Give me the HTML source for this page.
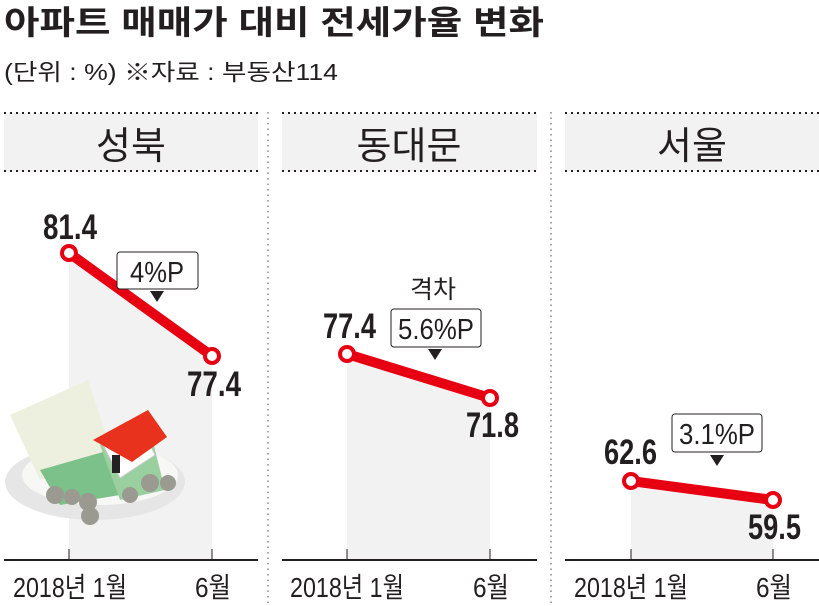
<!DOCTYPE html>
<html><head><meta charset="utf-8"><style>
html,body{margin:0;padding:0;background:#fff;width:819px;height:606px;overflow:hidden}
svg{display:block}
text{font-family:"Liberation Sans","Noto Sans CJK KR",sans-serif;fill:#231f20}
.b{font-weight:bold;font-size:35px}
.ax{font-size:28px}
.hd{font-size:38px}
.bx{font-size:29px}
</style></head><body>
<svg width="819" height="606" viewBox="0 0 819 606" xmlns="http://www.w3.org/2000/svg">
<text x="4" y="34" font-size="33" font-weight="bold" textLength="540" lengthAdjust="spacingAndGlyphs">아파트 매매가 대비 전세가율 변화</text>
<text x="4" y="80" font-size="23" textLength="334" lengthAdjust="spacingAndGlyphs">(단위 : %)   ※자료 : 부동산114</text>

<g fill="#f2f2f2"><rect x="4" y="113" width="254" height="58"/><rect x="282" y="113" width="255" height="58"/><rect x="565" y="113" width="254" height="58"/></g>
<g stroke="#231f20" stroke-width="2" stroke-dasharray="2 4">
<line x1="4" y1="113" x2="258" y2="113"/><line x1="4" y1="171" x2="258" y2="171"/>
<line x1="282" y1="113" x2="537" y2="113"/><line x1="282" y1="171" x2="537" y2="171"/>
<line x1="565" y1="113" x2="819" y2="113"/><line x1="565" y1="171" x2="819" y2="171"/>
</g>
<g stroke="#888" stroke-width="1.5" stroke-dasharray="1.5 4">
<line x1="268" y1="112" x2="268" y2="606"/><line x1="551" y1="112" x2="551" y2="606"/>
</g>
<text class="hd" x="131" y="159" text-anchor="middle">성북</text>
<text class="hd" x="409" y="159" text-anchor="middle">동대문</text>
<text class="hd" x="692" y="159" text-anchor="middle">서울</text>

<g fill="#f2f2f2">
<polygon points="69,253 212,356 212,559 69,559"/>
<polygon points="347,354 490,398 490,559 347,559"/>
<polygon points="631,481 773,500 773,559 631,559"/>
</g>

<ellipse cx="95" cy="482" rx="90" ry="38" fill="#e6e6e6"/>
<ellipse cx="100" cy="475" rx="78" ry="30" fill="#f7f7f5"/>
<polygon points="10,415 88,380 112,452 40,480" fill="#eef0df"/>
<polygon points="40,470 110,450 150,490 60,505" fill="#7cc08a"/>
<polygon points="100,445 150,430 165,490 120,500" fill="#9ad0a0"/>
<g fill="#9a9a90"><circle cx="55" cy="495" r="9"/><circle cx="72" cy="497" r="8"/><circle cx="88" cy="502" r="9"/><circle cx="130" cy="495" r="8"/><circle cx="150" cy="483" r="9"/><circle cx="168" cy="483" r="8"/><circle cx="90" cy="516" r="9"/></g>
<polygon points="103,445 140,425 155,455 120,478" fill="#fff" stroke="#ccc"/>
<polygon points="93,440 148,410 167,437 132,462" fill="#e8321e"/>
<rect x="112" y="455" width="8" height="18" fill="#222"/>

<g stroke="#231f20" stroke-width="2">
<line x1="4" y1="560" x2="258" y2="560"/><line x1="282" y1="560" x2="537" y2="560"/><line x1="565" y1="560" x2="819" y2="560"/>
</g>
<g stroke="#231f20" stroke-width="1">
<line x1="69" y1="549" x2="69" y2="560"/><line x1="212" y1="549" x2="212" y2="560"/>
<line x1="347" y1="549" x2="347" y2="560"/><line x1="490" y1="549" x2="490" y2="560"/>
<line x1="631" y1="549" x2="631" y2="560"/><line x1="773" y1="549" x2="773" y2="560"/>
</g>
<g class="ax">
<text x="13" y="597" textLength="114" lengthAdjust="spacingAndGlyphs">2018년 1월</text>
<text x="195" y="597" textLength="36" lengthAdjust="spacingAndGlyphs">6월</text>
<text x="290" y="597" textLength="114" lengthAdjust="spacingAndGlyphs">2018년 1월</text>
<text x="473" y="597" textLength="36" lengthAdjust="spacingAndGlyphs">6월</text>
<text x="574" y="597" textLength="114" lengthAdjust="spacingAndGlyphs">2018년 1월</text>
<text x="756" y="597" textLength="36" lengthAdjust="spacingAndGlyphs">6월</text>
</g>

<g stroke="#e60012" stroke-width="10" stroke-linecap="round">
<line x1="69" y1="253" x2="212" y2="356"/>
<line x1="347" y1="354" x2="490" y2="398"/>
<line x1="631" y1="481" x2="773" y2="500"/>
</g>
<g fill="#fff" stroke="#e60012" stroke-width="4">
<circle cx="69" cy="253" r="7"/><circle cx="212" cy="356" r="7"/>
<circle cx="347" cy="354" r="7"/><circle cx="490" cy="398" r="7"/>
<circle cx="631" cy="481" r="7"/><circle cx="773" cy="500" r="7"/>
</g>

<g class="b">
<text x="43" y="239" textLength="54" lengthAdjust="spacingAndGlyphs">81.4</text>
<text x="187" y="396" textLength="54" lengthAdjust="spacingAndGlyphs">77.4</text>
<text x="323" y="338" textLength="53" lengthAdjust="spacingAndGlyphs">77.4</text>
<text x="466" y="437" textLength="53" lengthAdjust="spacingAndGlyphs">71.8</text>
<text x="604" y="464" textLength="53" lengthAdjust="spacingAndGlyphs">62.6</text>
<text x="748" y="539" textLength="53" lengthAdjust="spacingAndGlyphs">59.5</text>
</g>

<g fill="#fff" stroke="#231f20" stroke-width="1">
<rect x="117" y="252" width="81" height="37" rx="3"/>
<rect x="391" y="309" width="90" height="38" rx="3"/>
<rect x="672" y="414" width="90" height="38" rx="3"/>
</g>
<g fill="#231f20">
<polygon points="150,291 164,291 157,302"/>
<polygon points="428,349 442,349 435,360"/>
<polygon points="710,455 724,455 717,466"/>
</g>
<g class="bx" text-anchor="middle">
<text x="157" y="282" textLength="54" lengthAdjust="spacingAndGlyphs">4%P</text>
<text x="436" y="339" textLength="76" lengthAdjust="spacingAndGlyphs">5.6%P</text>
<text x="717" y="444" textLength="76" lengthAdjust="spacingAndGlyphs">3.1%P</text>
</g>
<text x="433" y="298" font-size="25" text-anchor="middle">격차</text>
</svg>
</body></html>
